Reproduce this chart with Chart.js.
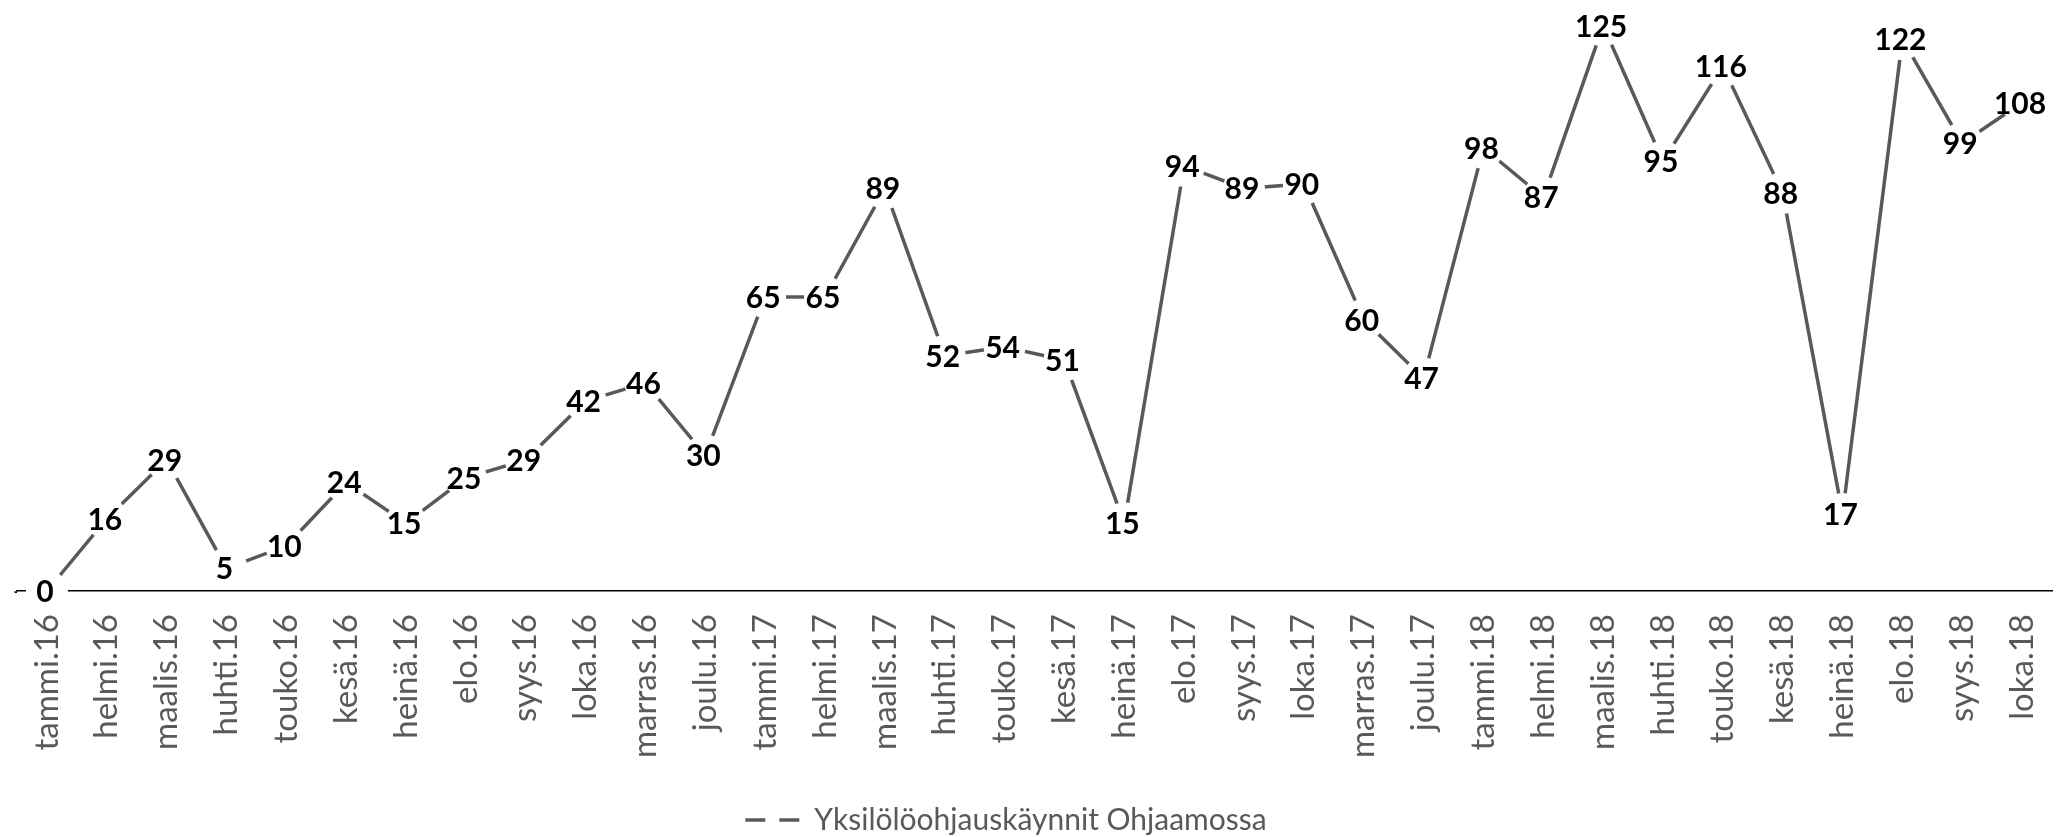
<!DOCTYPE html>
<html>
<head>
<meta charset="utf-8">
<script src="https://cdn.jsdelivr.net/npm/chart.js@4/dist/chart.umd.min.js"></script>
<style>
html,body{margin:0;padding:0;background:#fff;}
#c{display:block;}
</style>
</head>
<body>
<canvas id="c" width="2065" height="837"></canvas>
<script>
const categories = [
  'tammi.16','helmi.16','maalis.16','huhti.16','touko.16','kesä.16','heinä.16','elo.16','syys.16','loka.16','marras.16','joulu.16',
  'tammi.17','helmi.17','maalis.17','huhti.17','touko.17','kesä.17','heinä.17','elo.17','syys.17','loka.17','marras.17','joulu.17',
  'tammi.18','helmi.18','maalis.18','huhti.18','touko.18','kesä.18','heinä.18','elo.18','syys.18','loka.18'
];
const visits = [
  0,16,29,5,10,24,15,25,29,42,46,30,
  65,65,89,52,54,51,15,94,89,90,60,47,
  98,87,125,95,116,88,17,122,99,108
];
const seriesName = 'Yksilölöohjauskäynnit Ohjaamossa';
const yTickValues = [0];
const yTickLabels = ['-'];

const pointLabels = {
  id: 'pointLabels',
  afterDatasetsDraw(chart) {
    const ctx = chart.ctx;
    const meta = chart.getDatasetMeta(0);
    ctx.save();
    ctx.font = 'bold 30px Lato, "Liberation Sans", sans-serif';
    ctx.fillStyle = '#000000';
    ctx.textAlign = 'center';
    ctx.textBaseline = 'alphabetic';
    meta.data.forEach((pt, i) => {
      ctx.fillText(String(visits[i]), pt.x - 2, pt.y + 11);
    });
    ctx.restore();
  }
};

// nudge the centred legend slightly left, as in the original layout
const legendShift = {
  id: 'legendShift',
  afterLayout(chart) {
    if (chart.legend) {
      chart.legend.left -= 20;
      chart.legend.right -= 20;
    }
  }
};

new Chart(document.getElementById('c'), {
  type: 'line',
  data: {
    labels: categories,
    datasets: [{
      label: seriesName,
      data: visits,
      borderColor: '#595959',
      borderWidth: 3.5,
      tension: 0,
      pointRadius: 21,
      pointHoverRadius: 21,
      pointBackgroundColor: '#ffffff',
      pointBorderColor: 'rgba(0,0,0,0)',
      pointBorderWidth: 0,
      clip: false
    }]
  },
  options: {
    responsive: false,
    animation: false,
    devicePixelRatio: 1,
    layout: { autoPadding: false, padding: { left: 0, right: 13, top: 3, bottom: -8 } },
    plugins: {
      tooltip: { enabled: false },
      legend: {
        position: 'bottom',
        labels: {
          usePointStyle: true,
          pointStyleWidth: 54,
          padding: 5,
          color: '#595959',
          font: { family: 'Lato', size: 30 },
          generateLabels(chart) {
            const ds = chart.data.datasets[0];
            return [{
              text: ds.label,
              fillStyle: '#ffffff',
              strokeStyle: '#595959',
              lineWidth: 3.5,
              lineDash: [20, 14],
              lineCap: 'butt',
              pointStyle: 'line',
              fontColor: '#595959',
              datasetIndex: 0,
              hidden: false
            }];
          }
        }
      }
    },
    scales: {
      x: {
        type: 'category',
        offset: true,
        grid: { display: false, drawTicks: false },
        border: { display: true, color: '#000000', width: 1.5 },
        ticks: {
          color: '#595959',
          font: { family: 'Lato', size: 33 },
          minRotation: 90,
          maxRotation: 90,
          autoSkip: false,
          padding: 23
        },
        afterFit(s) { s.height = 209; s.paddingLeft = 0; s.paddingRight = 0; }
      },
      y: {
        min: 0,
        max: 130,
        grid: { display: false, drawTicks: false },
        border: { display: false },
        afterBuildTicks(s) { s.ticks = yTickValues.map(v => ({ value: v })); },
        ticks: {
          color: '#000000',
          font: { family: 'Lato', size: 24 },
          padding: -5,
          callback: (v, i) => yTickLabels[i]
        },
        afterFit(s) { s.width = 17; s.paddingTop = 0; s.paddingBottom = 0; }
      }
    }
  },
  plugins: [pointLabels, legendShift]
});
</script>
</body>
</html>
